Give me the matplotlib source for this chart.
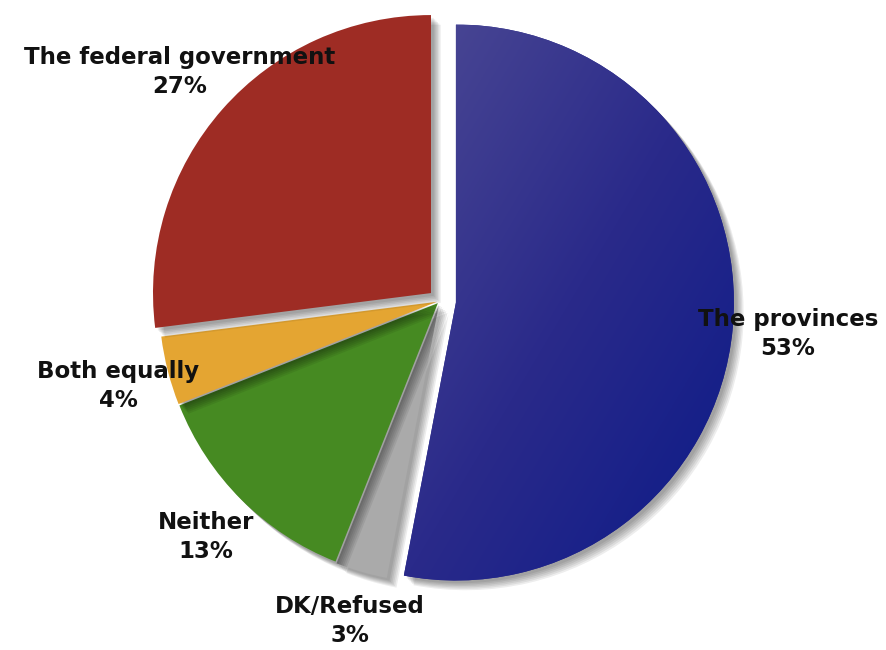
import numpy as np
import matplotlib
matplotlib.use("Agg")
import matplotlib.pyplot as plt
import matplotlib.patheffects as pe
from matplotlib.colors import LinearSegmentedColormap

labels = ["The provinces", "DK/Refused", "Neither", "Both equally", "The federal government"]
values = [53, 3, 13, 4, 27]
colors = ["#2a2a8a", "#aaaaaa", "#468a22", "#e4a532", "#9e2c24"]
light = ["#4c4994", "#bdbdbd", "#58913c", "#ebb458", "#a2403a"]
dark = ["#0b1a88", "#9a9a9a", "#3a8a0c", "#e09e1e", "#a0201a"]
explode = [16, 4, 3, 3, 12]
label_pos = [(788, 334), (350, 621), (206, 537), (118, 386), (180, 72)]

W, H = 886, 650
fig = plt.figure(figsize=(W / 100, H / 100), dpi=100)
ax = fig.add_axes([0, 0, 1, 1])
cx, cy, r = 440, 301, 278

wedges, _ = ax.pie(values, colors=colors, explode=explode, startangle=90,
                   counterclock=False, center=(cx, H - cy), radius=r,
                   wedgeprops=dict(linewidth=0), frame=True)

shadow = [pe.SimplePatchShadow(offset=(o, -o), shadow_rgbFace="black", alpha=0.07)
          for o in (7, 6, 5, 4, 3, 2)]

yy, xx = np.mgrid[0:1:200j, 0:1:200j]
grad = (xx + yy) / 2.0
inv = ax.transData.inverted()
for w, c, lc, dc in zip(wedges, colors, light, dark):
    w.set_path_effects(shadow + [pe.Normal()])
    cmap = LinearSegmentedColormap.from_list("g", [lc, c, dc])
    bb = w.get_path().get_extents(w.get_transform())
    (x0, y0), (x1, y1) = inv.transform([[bb.x0, bb.y0], [bb.x1, bb.y1]])
    im = ax.imshow(grad, extent=(x0, x1, y0, y1), origin="upper", cmap=cmap,
                   zorder=w.get_zorder() + 0.1, aspect="auto", interpolation="bilinear")
    im.set_clip_path(w)

for lab, v, (lx, ly) in zip(labels, values, label_pos):
    ax.text(lx, H - ly, f"{lab}\n{v}%", ha="center", va="center", fontsize=16.5,
            fontweight="bold", color="#111111", linespacing=1.3, zorder=10)

ax.set_xlim(0, W)
ax.set_ylim(0, H)
ax.set_aspect("auto")
ax.axis("off")
fig.savefig("out.png", dpi=100)
